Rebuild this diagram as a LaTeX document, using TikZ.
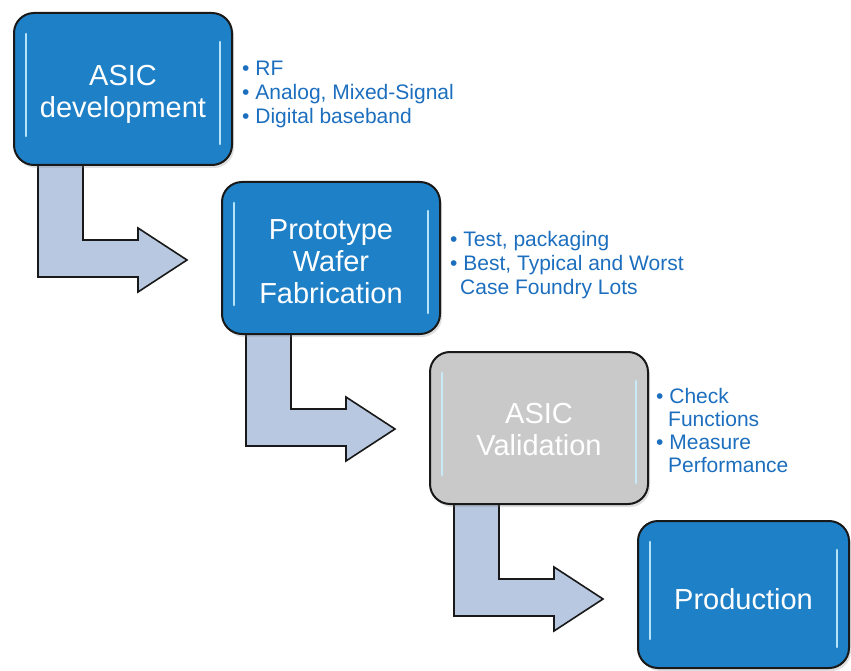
\documentclass[tikz,border=0pt]{standalone}
\usepackage{fontspec}
\setmainfont{Liberation Sans}
\usetikzlibrary{shadows}
\definecolor{boxblue}{RGB}{30,128,198}
\definecolor{boxgray}{RGB}{201,201,201}
\definecolor{bultxt}{RGB}{28,110,190}
\definecolor{arrowfill}{RGB}{184,200,225}
\definecolor{glow}{RGB}{200,238,255}
\tikzset{
  stepbox/.style={draw=black!90, line width=2pt, rounded corners=20pt,
    minimum width=218pt, minimum height=152pt, inner sep=0pt,
    drop shadow={shadow xshift=2pt, shadow yshift=-3pt, opacity=0.25}},
  bluebox/.style={stepbox, fill=boxblue},
  graybox/.style={stepbox, fill=boxgray},
  boxtext/.style={text=white, align=center, inner sep=0pt,
    font=\fontsize{29}{32}\selectfont},
  bultext/.style={anchor=base west, inner sep=0pt, text=bultxt,
    font=\fontsize{21}{24}\selectfont},
  bentarrow/.style={draw=black!90, line width=1.6pt, fill=arrowfill, line join=miter},
  hilite/.style={draw=glow, line width=2.6pt, line cap=round, opacity=0.9}
}
\newcommand{\bentarr}[1]{%
  \draw[bentarrow, shift={#1}]
    (24,147) -- (69,147) -- (69,227) -- (124,227) -- (124,215) -- (173,247)
    -- (124,279) -- (124,264) -- (24,264) -- cycle;}
\newcommand{\boxhl}[1]{%
  \draw[hilite] ([shift={(13,22)}]#1.north west) -- ([shift={(13,-30)}]#1.south west);
  \draw[hilite] ([shift={(-13,30)}]#1.north east) -- ([shift={(-13,-22)}]#1.south east);}
\begin{document}
\begin{tikzpicture}[x=1pt,y=-1pt]
\useasboundingbox (0,0) rectangle (851,671);
% arrows
\bentarr{(14,13)}
\bentarr{(222,182)}
\bentarr{(430,352)}
% boxes
\node[bluebox] (b1) at (123,89) {};
\node[bluebox] (b2) at (331,258) {};
\node[graybox] (b3) at (539,428) {};
\node[bluebox, minimum width=211pt, minimum height=147pt] (b4) at (743.5,594.5) {};
\boxhl{b1}
\boxhl{b2}
\boxhl{b3}
\boxhl{b4}
\node[boxtext] (l1) at ([yshift=-5pt]b1.center) {ASIC\\development};
\node[boxtext] (l2) at ([yshift=-4pt]b2.center) {Prototype\\Wafer\\Fabrication};
\node[boxtext] (l3) at ([yshift=-2pt]b3.center) {ASIC\\Validation};
\node[boxtext] (l4) at ([yshift=-5pt]b4.center) {Production};
% bullets
\node[bultext] (t1a) at (242,76) {\textbullet\ RF};
\node[bultext] (t1b) at (242,100) {\textbullet\ Analog, Mixed-Signal};
\node[bultext] (t1c) at (242,124) {\textbullet\ Digital baseband};
\node[bultext] (t2a) at (450,246) {\textbullet\ Test, packaging};
\node[bultext] (t2b) at (450,270) {\textbullet\ Best, Typical and Worst};
\node[bultext] (t2c) at (460,294) {Case Foundry Lots};
\node[bultext] (t3a) at (656,403) {\textbullet\ Check};
\node[bultext] (t3b) at (668,426) {Functions};
\node[bultext] (t3c) at (656,449) {\textbullet\ Measure};
\node[bultext] (t3d) at (668,472) {Performance};
\end{tikzpicture}
\end{document}
